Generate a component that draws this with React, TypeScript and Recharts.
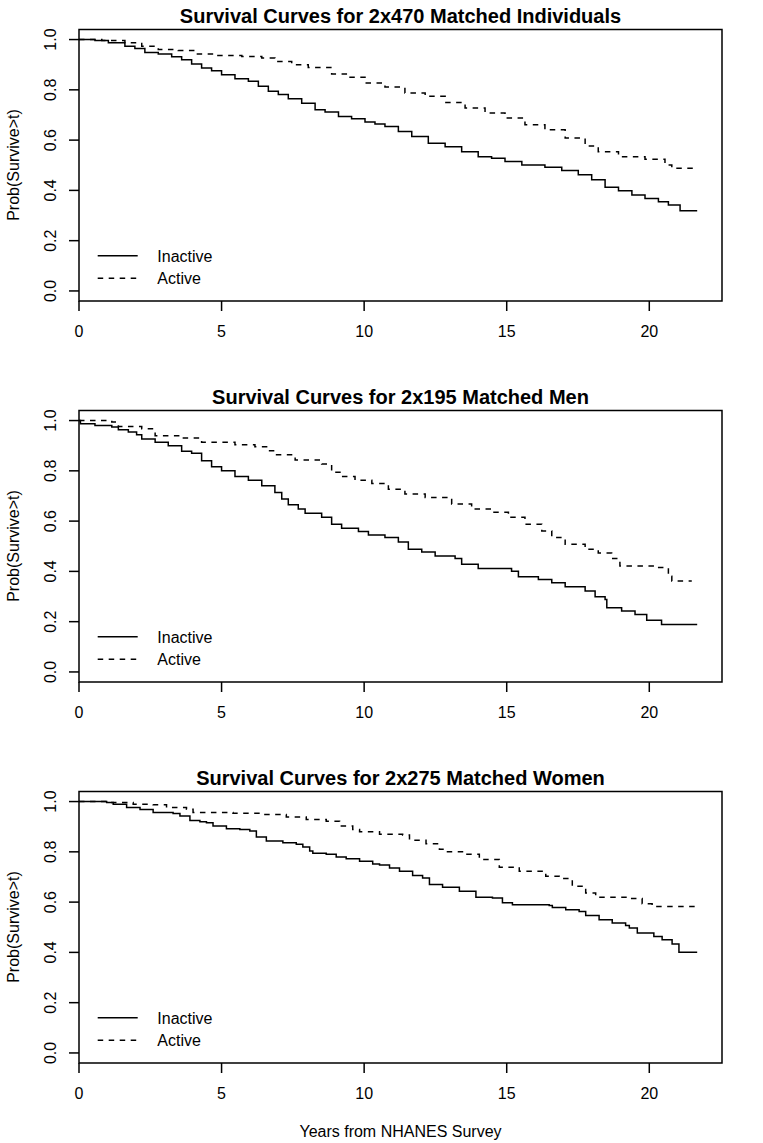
import React from 'react';
import { LineChart, Line, XAxis, YAxis, ReferenceArea } from 'recharts';

// ---- data ----
const TIME_TICKS = [0, 5, 10, 15, 20];
const PROB_TICKS = [0, 0.2, 0.4, 0.6, 0.8, 1.0];
const SERIES_NAMES = ['Inactive', 'Active'];
const PANEL_TITLES = [
  'Survival Curves for 2x470 Matched Individuals',
  'Survival Curves for 2x195 Matched Men',
  'Survival Curves for 2x275 Matched Women',
];
const X_LABEL = 'Years from NHANES Survey';
const Y_LABEL = 'Prob(Survive>t)';

const allInactive: [number, number][] = [
  [0, 1.0], [0.56, 0.996], [1.03, 0.987], [1.61, 0.973], [1.96, 0.964], [2.31, 0.949],
  [2.78, 0.943], [3.25, 0.932], [3.6, 0.92], [3.95, 0.903], [4.3, 0.887], [4.65, 0.876],
  [5.0, 0.86], [5.47, 0.844], [5.94, 0.834], [6.29, 0.814], [6.64, 0.794], [6.99, 0.781],
  [7.34, 0.765], [7.81, 0.747], [8.28, 0.721], [8.63, 0.712], [9.1, 0.694], [9.56, 0.685],
  [10.03, 0.672], [10.38, 0.664], [10.73, 0.654], [11.2, 0.634], [11.67, 0.614], [12.25, 0.588],
  [12.84, 0.574], [13.42, 0.554], [14.0, 0.534], [14.47, 0.528], [14.94, 0.515], [15.53, 0.501],
  [16.34, 0.492], [16.93, 0.479], [17.51, 0.462], [17.98, 0.442], [18.45, 0.412], [18.92, 0.399],
  [19.39, 0.382], [19.85, 0.368], [20.32, 0.355], [20.67, 0.342], [21.08, 0.319], [21.68, 0.319],
];
const allActive: [number, number][] = [
  [0, 1.0], [0.8, 0.996], [1.61, 0.987], [2.2, 0.973], [2.78, 0.96], [3.48, 0.956],
  [4.07, 0.943], [4.77, 0.937], [5.71, 0.933], [6.41, 0.927], [6.87, 0.913], [7.46, 0.9],
  [8.04, 0.889], [8.86, 0.863], [9.45, 0.85], [10.03, 0.827], [10.73, 0.811], [11.43, 0.787],
  [12.14, 0.774], [12.84, 0.75], [13.54, 0.728], [14.24, 0.708], [14.94, 0.688], [15.64, 0.661],
  [16.34, 0.641], [17.05, 0.608], [17.75, 0.577], [18.21, 0.554], [18.92, 0.534], [19.85, 0.524],
  [20.55, 0.501], [20.79, 0.488], [21.68, 0.488],
];
const menInactive: [number, number][] = [
  [0, 1.0], [0.05, 0.987], [0.56, 0.98], [1.15, 0.974], [1.38, 0.963], [1.73, 0.954],
  [2.02, 0.944], [2.2, 0.927], [2.67, 0.914], [3.13, 0.9], [3.6, 0.878], [3.95, 0.87],
  [4.3, 0.84], [4.65, 0.816], [5.0, 0.8], [5.47, 0.777], [5.94, 0.763], [6.41, 0.741],
  [6.87, 0.714], [7.11, 0.688], [7.34, 0.665], [7.69, 0.648], [7.93, 0.631], [8.51, 0.615],
  [8.86, 0.588], [9.21, 0.572], [9.8, 0.559], [10.15, 0.545], [10.73, 0.535], [11.2, 0.517],
  [11.55, 0.488], [12.02, 0.477], [12.49, 0.461], [13.19, 0.451], [13.42, 0.428], [14.0, 0.411],
  [15.17, 0.401], [15.41, 0.379], [16.11, 0.368], [16.58, 0.355], [17.05, 0.339], [17.75, 0.322],
  [18.1, 0.299], [18.45, 0.288], [18.51, 0.255], [19.03, 0.242], [19.5, 0.229], [19.91, 0.206],
  [20.43, 0.189], [21.68, 0.189],
];
const menActive: [number, number][] = [
  [0, 1.0], [1.15, 0.994], [1.38, 0.976], [2.2, 0.967], [2.67, 0.94], [3.6, 0.931],
  [4.3, 0.914], [5.47, 0.904], [6.17, 0.896], [6.64, 0.88], [6.87, 0.864], [7.58, 0.843],
  [8.51, 0.827], [8.86, 0.794], [9.21, 0.777], [9.68, 0.763], [10.27, 0.75], [10.85, 0.727],
  [11.43, 0.708], [12.14, 0.694], [12.95, 0.69], [13.07, 0.668], [13.77, 0.648], [14.47, 0.635],
  [15.06, 0.615], [15.64, 0.588], [16.23, 0.561], [16.58, 0.535], [17.05, 0.508], [17.75, 0.488],
  [18.21, 0.473], [18.68, 0.451], [18.97, 0.421], [20.3, 0.415], [20.67, 0.381], [20.79, 0.362],
  [21.49, 0.362],
];
const womenInactive: [number, number][] = [
  [0, 1.0], [0.97, 0.996], [1.2, 0.989], [1.67, 0.976], [2.14, 0.968], [2.6, 0.956],
  [3.3, 0.952], [3.54, 0.943], [3.89, 0.925], [4.24, 0.92], [4.47, 0.916], [4.7, 0.903],
  [5.17, 0.892], [5.64, 0.889], [5.99, 0.883], [6.22, 0.859], [6.57, 0.843], [7.15, 0.836],
  [7.62, 0.83], [7.85, 0.819], [8.09, 0.803], [8.2, 0.794], [8.67, 0.79], [9.02, 0.779],
  [9.37, 0.772], [9.84, 0.763], [10.3, 0.752], [10.54, 0.748], [10.89, 0.736], [11.24, 0.723],
  [11.7, 0.706], [12.05, 0.696], [12.29, 0.67], [12.75, 0.659], [13.34, 0.643], [13.92, 0.619],
  [14.5, 0.616], [14.85, 0.597], [15.2, 0.59], [16.49, 0.587], [16.6, 0.579], [17.07, 0.57],
  [17.54, 0.563], [17.77, 0.547], [18.24, 0.53], [18.7, 0.517], [19.17, 0.507], [19.3, 0.497],
  [19.58, 0.477], [20.16, 0.463], [20.45, 0.45], [20.8, 0.433], [21.04, 0.401], [21.68, 0.401],
];
const womenActive: [number, number][] = [
  [0, 1.0], [0.97, 0.996], [1.9, 0.989], [2.6, 0.987], [3.07, 0.976], [3.77, 0.969],
  [4.0, 0.956], [5.4, 0.953], [6.34, 0.949], [7.27, 0.939], [7.97, 0.929], [8.67, 0.922],
  [9.14, 0.903], [9.6, 0.889], [9.84, 0.88], [10.54, 0.87], [11.35, 0.867], [11.59, 0.846],
  [12.17, 0.832], [12.64, 0.81], [12.87, 0.8], [13.57, 0.79], [14.04, 0.77], [14.74, 0.739],
  [15.44, 0.723], [16.37, 0.703], [16.84, 0.694], [17.3, 0.663], [17.77, 0.636], [18.12, 0.619],
  [19.29, 0.614], [19.75, 0.593], [20.1, 0.583], [21.68, 0.583],
];

const X_MAX = 22.55;
const Y_DOMAIN: [number, number] = [-0.04, 1.04];
const FONT = '"Liberation Sans", Arial, Helvetica, sans-serif';
const DASH = '5.5 5.5';

const toRows = (pairs: [number, number][]) => pairs.map(([t, s]) => ({ t, s }));

function XTick(props: any) {
  const { x, y, payload } = props;
  return (
    <text x={x} y={y + 23.5} textAnchor="middle" fontSize={16} fontFamily={FONT} fill="#000">
      {String(payload.value)}
    </text>
  );
}

function YTick(props: any) {
  const { x, y, payload } = props;
  const bx = x - 11;
  return (
    <text
      x={bx}
      y={y}
      transform={`rotate(-90 ${bx} ${y})`}
      textAnchor="middle"
      fontSize={16}
      fontFamily={FONT}
      fill="#000"
    >
      {Number(payload.value).toFixed(1)}
    </text>
  );
}

function Panel({
  title,
  inactive,
  active,
  showXLabel,
}: {
  title: string;
  inactive: [number, number][];
  active: [number, number][];
  showXLabel: boolean;
}) {
  return (
    <LineChart width={763} height={381} margin={{ top: 29.5, right: 41, bottom: 50, left: 19 }}>
      <XAxis
        type="number"
        dataKey="t"
        domain={[0, X_MAX]}
        ticks={TIME_TICKS}
        allowDataOverflow
        axisLine={false}
        stroke="#000"
        tickLine={{ stroke: '#000', strokeWidth: 1.5 }}
        tickSize={10}
        height={30}
        tick={XTick}
      />
      <YAxis
        type="number"
        domain={Y_DOMAIN}
        ticks={PROB_TICKS}
        allowDataOverflow
        axisLine={false}
        stroke="#000"
        tickLine={{ stroke: '#000', strokeWidth: 1.5 }}
        tickSize={10}
        width={60}
        tick={YTick}
      />
      <ReferenceArea
        x1={0}
        x2={X_MAX}
        y1={Y_DOMAIN[0]}
        y2={Y_DOMAIN[1]}
        fill="none"
        fillOpacity={0}
        stroke="#000"
        strokeWidth={1.5}
        strokeOpacity={1}
      />
      <Line
        data={toRows(inactive)}
        dataKey="s"
        name={SERIES_NAMES[0]}
        type="stepAfter"
        stroke="#000"
        strokeWidth={1.5}
        dot={false}
        activeDot={false}
        isAnimationActive={false}
      />
      <Line
        data={toRows(active)}
        dataKey="s"
        name={SERIES_NAMES[1]}
        type="stepAfter"
        stroke="#000"
        strokeWidth={1.5}
        strokeDasharray={DASH}
        dot={false}
        activeDot={false}
        isAnimationActive={false}
      />
      <text x={400.5} y={22.7} textAnchor="middle" fontSize={20} fontWeight="bold" fontFamily={FONT} fill="#000">
        {title}
      </text>
      <text
        x={18.5}
        y={165}
        transform="rotate(-90 18.5 165)"
        textAnchor="middle"
        fontSize={16}
        fontFamily={FONT}
        fill="#000"
      >
        {Y_LABEL}
      </text>
      <line x1={97.7} x2={137.7} y1={255.7} y2={255.7} stroke="#000" strokeWidth={1.5} />
      <text x={157.3} y={261.7} fontSize={16} fontFamily={FONT} fill="#000">
        {SERIES_NAMES[0]}
      </text>
      <line x1={97.7} x2={137.7} y1={278.3} y2={278.3} stroke="#000" strokeWidth={1.5} strokeDasharray={DASH} />
      <text x={157.3} y={284} fontSize={16} fontFamily={FONT} fill="#000">
        {SERIES_NAMES[1]}
      </text>
      {showXLabel ? (
        <text x={400.5} y={374.5} textAnchor="middle" fontSize={16} fontFamily={FONT} fill="#000">
          {X_LABEL}
        </text>
      ) : null}
    </LineChart>
  );
}

export default function App() {
  return (
    <div
      style={{
        position: 'absolute',
        left: 0,
        top: 0,
        width: 763,
        height: 1143,
        background: '#fff',
        overflow: 'hidden',
      }}
    >
      <Panel title={PANEL_TITLES[0]} inactive={allInactive} active={allActive} showXLabel={false} />
      <Panel title={PANEL_TITLES[1]} inactive={menInactive} active={menActive} showXLabel={false} />
      <Panel title={PANEL_TITLES[2]} inactive={womenInactive} active={womenActive} showXLabel={true} />
    </div>
  );
}
